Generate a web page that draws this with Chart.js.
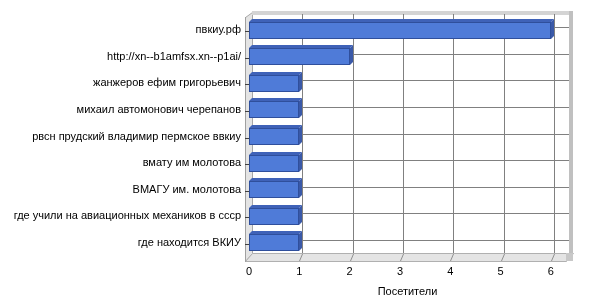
<!DOCTYPE html>
<html><head><meta charset="utf-8">
<script src="https://cdn.jsdelivr.net/npm/chart.js@4.4.1/dist/chart.umd.min.js"></script>
<style>html,body{margin:0;padding:0;background:#fff}#wrap{width:600px;height:300px}</style>
</head><body><div id="wrap"><canvas id="c" width="600" height="300"></canvas></div>
<script>
const categories = ["пвкиу.рф","http://xn--b1amfsx.xn--p1ai/","жанжеров ефим григорьевич","михаил автомонович черепанов","рвсн прудский владимир пермское ввкиу","вмату им молотова","ВМАГУ им. молотова","где учили на авиационных механиков в ссср","где находится ВКИУ"];
const visitors = [6,2,1,1,1,1,1,1,1];
const xTicks = [0,1,2,3,4,5,6];
const axisTitle = "Посетители";

const D = 3; // depth offset
const frame3d = {
  id:'frame3d',
  beforeDatasetsDraw(chart){
    const {ctx, chartArea:a, scales:{x,y}} = chart;
    ctx.save();
    const L=a.left-4, T=a.top, B=a.bottom, R=a.right;
    ctx.fillStyle='#e4e4e4'; ctx.strokeStyle='#a8a8a8'; ctx.lineWidth=1;
    ctx.beginPath(); ctx.moveTo(L+0.5,T+0.5); ctx.lineTo(a.left+D+0.5,T-D-2+0.5); ctx.lineTo(a.left+D+0.5,B-D+0.5); ctx.lineTo(L+0.5,B+5+0.5); ctx.closePath(); ctx.fill(); ctx.stroke();
    ctx.fillStyle='#d4d4d4';
    ctx.fillRect(a.left+D, T-D-3, R+D+4-(a.left+D), 4);
    ctx.fillStyle='#c0c0c0';
    ctx.fillRect(R+D, T-D-3, 4, B-D-(T-D-3));
    ctx.fillStyle='#e4e4e4'; ctx.strokeStyle='#b0b0b0';
    ctx.beginPath(); ctx.moveTo(L+0.5,B+5+0.5); ctx.lineTo(a.left+D+0.5,B-D+0.5); ctx.lineTo(R+D+4+0.5,B-D+0.5); ctx.lineTo(R+0.5,B+5+0.5); ctx.closePath(); ctx.fill(); ctx.stroke();
    ctx.fillStyle='#c8c8c8'; ctx.fillRect(R,B-D,D+4,8);
    ctx.strokeStyle='#808080'; ctx.lineWidth=1;
    xTicks.forEach(v=>{ if(v===0) return; const px=Math.round(x.getPixelForValue(v))+D+0.5; ctx.beginPath(); ctx.moveTo(px,T-D); ctx.lineTo(px,B-D); ctx.stroke(); });
    categories.forEach((c,i)=>{ const py=Math.round(y.getPixelForValue(i))-D+0.5; ctx.beginPath(); ctx.moveTo(a.left+D,py); ctx.lineTo(R+D,py); ctx.stroke(); });
    ctx.strokeStyle='#909090';
    xTicks.forEach(v=>{ if(v===0) return; const px=Math.round(x.getPixelForValue(v))+0.5; ctx.beginPath(); ctx.moveTo(px,B+5); ctx.lineTo(px+D,B-D+1); ctx.stroke(); });
    ctx.strokeStyle='#a0a0a0';
    ctx.beginPath(); ctx.moveTo(L+0.5,T); ctx.lineTo(L+0.5,B+6); ctx.stroke();
    ctx.strokeStyle='#404040';
    categories.forEach((c,i)=>{ const py=Math.round(y.getPixelForValue(i))+1.5; ctx.beginPath(); ctx.moveTo(L,py); ctx.lineTo(L+4,py); ctx.stroke(); });
    ctx.restore();
  },
  afterDatasetsDraw(chart){
    const {ctx} = chart;
    const meta = chart.getDatasetMeta(0);
    ctx.save();
    meta.data.forEach(bar=>{
      const x0=Math.round(bar.base), x1=Math.round(bar.x), t=Math.round(bar.y-bar.height/2), b=t+Math.round(bar.height);
      ctx.fillStyle='#3f62b8'; ctx.strokeStyle='#2f4f9c'; ctx.lineWidth=1;
      ctx.beginPath(); ctx.moveTo(x0,t); ctx.lineTo(x0+D,t-D); ctx.lineTo(x1+D,t-D); ctx.lineTo(x1,t); ctx.closePath(); ctx.fill();
      ctx.fillStyle='#3a59a8';
      ctx.beginPath(); ctx.moveTo(x1,t); ctx.lineTo(x1+D,t-D); ctx.lineTo(x1+D,b-D); ctx.lineTo(x1,b); ctx.closePath(); ctx.fill();
      ctx.fillStyle='#4f7bd8';
      ctx.fillRect(x0,t,x1-x0,b-t);
      ctx.strokeRect(x0+0.5,t+0.5,x1-x0-1,b-t-1);
    });
    ctx.restore();
  }
};

new Chart(document.getElementById('c'),{
  type:'bar',
  data:{labels:categories,datasets:[{data:visitors,backgroundColor:'rgba(0,0,0,0)',borderWidth:0,barThickness:17}]},
  options:{
    indexAxis:'y', responsive:false, animation:false,
    layout:{padding:{top:17,right:34,bottom:0,left:0}},
    plugins:{legend:{display:false},tooltip:{enabled:false}},
    scales:{
      x:{min:0,max:6.3,border:{display:false},grid:{display:false},
        ticks:{stepSize:1,includeBounds:false,color:'#000',font:{family:'Liberation Sans',size:11},padding:1},
        title:{display:true,text:axisTitle,color:'#000',font:{family:'Liberation Sans',size:11},padding:{top:4,bottom:1}},
        afterFit(s){s.height=44;}},
      y:{border:{display:false},grid:{display:false},
        ticks:{color:'#000',font:{family:'Liberation Sans',size:11},padding:0},
        afterFit(s){s.width=249;}}
    }
  },
  plugins:[frame3d]
});
</script></body></html>
